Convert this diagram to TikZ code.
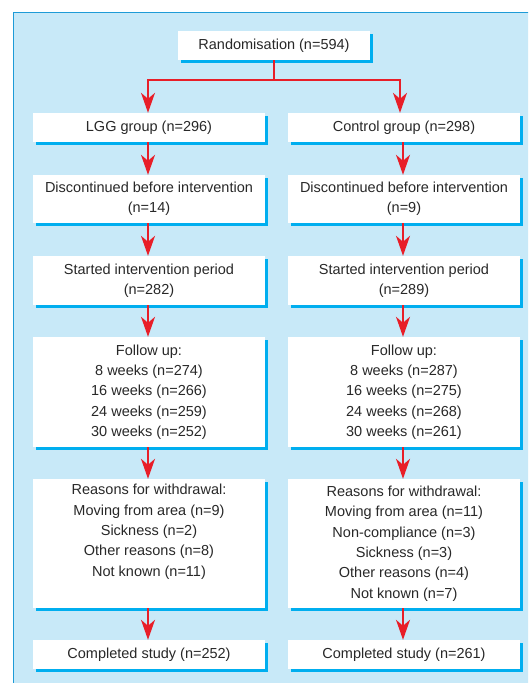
\documentclass[tikz,border=0pt]{standalone}
\usepackage{fontspec}
\setmainfont{Liberation Sans}
\usetikzlibrary{arrows.meta,shadows}
\definecolor{panelfill}{RGB}{200,233,248}
\definecolor{panelline}{RGB}{30,155,215}
\definecolor{shadowblue}{RGB}{0,174,239}
\definecolor{arrowred}{RGB}{232,30,40}
\definecolor{textgray}{RGB}{40,40,40}
\tikzset{
  box/.style={fill=white, draw=none, minimum width=232pt, inner sep=0pt,
    align=center, text=textgray, font=\fontsize{14.5}{20.3}\selectfont,
    drop shadow={shadow xshift=3pt, shadow yshift=-3pt, fill=shadowblue, opacity=1}},
  flow/.style={draw=arrowred, line width=1.5pt,
    -{Stealth[length=20pt,width=14pt,inset=6pt,fill=arrowred]}}
}
\begin{document}
\begin{tikzpicture}[x=1pt,y=-1pt]
\useasboundingbox (0,0) rectangle (528,683);
\begin{scope}
  \clip (0,0) rectangle (528,683);
  \fill[white] (0,0) rectangle (528,683);
  \draw[panelline, fill=panelfill, line width=1pt] (13.5,12.5) rectangle (560,720);
\end{scope}

\node[box, minimum width=192pt, minimum height=29pt] (rand) at (274,45.5) {Randomisation (n=594)};

% left column
\node[box, minimum height=29pt]  (lgg)   at (149,127.5) {LGG group (n=296)};
\node[box, minimum height=48pt]  (ldisc) at (149,199)   {Discontinued before intervention\\(n=14)};
\node[box, minimum height=49pt]  (lstart) at (149,280.5) {Started intervention period\\(n=282)};
\node[box, minimum height=110pt] (lfol)  at (149,392)   {Follow up:\\8 weeks (n=274)\\16 weeks (n=266)\\24 weeks (n=259)\\30 weeks (n=252)};
\node[box, minimum height=129pt] (lreas) at (149,543.5) {Reasons for withdrawal:\\Moving from area (n=9)\\Sickness (n=2)\\Other reasons (n=8)\\Not known (n=11)\\\strut};
\node[box, minimum height=29pt]  (lcomp) at (149,654.5) {Completed study (n=252)};

% right column
\node[box, minimum height=29pt]  (ctl)   at (404,127.5) {Control group (n=298)};
\node[box, minimum height=48pt]  (rdisc) at (404,199)   {Discontinued before intervention\\(n=9)};
\node[box, minimum height=49pt]  (rstart) at (404,280.5) {Started intervention period\\(n=289)};
\node[box, minimum height=110pt] (rfol)  at (404,392)   {Follow up:\\8 weeks (n=287)\\16 weeks (n=275)\\24 weeks (n=268)\\30 weeks (n=261)};
\node[box, minimum height=129pt] (rreas) at (404,543.5) {Reasons for withdrawal:\\Moving from area (n=11)\\Non-compliance (n=3)\\Sickness (n=3)\\Other reasons (n=4)\\Not known (n=7)};
\node[box, minimum height=29pt]  (rcomp) at (404,654.5) {Completed study (n=261)};

% connectors
\draw[flow] (rand.south) -- ++(0,20) -| ([xshift=-1pt]lgg.north);
\draw[flow] (rand.south) -- ++(0,20) -| ([xshift=-4pt]ctl.north);

\foreach \a/\b in {lgg/ldisc, ldisc/lstart, lstart/lfol, lfol/lreas, lreas/lcomp,
                   ctl/rdisc, rdisc/rstart, rstart/rfol, rfol/rreas, rreas/rcomp}
  \draw[flow] ([xshift=-1pt]\a.south) -- ([xshift=-1pt]\b.north);
\end{tikzpicture}
\end{document}
